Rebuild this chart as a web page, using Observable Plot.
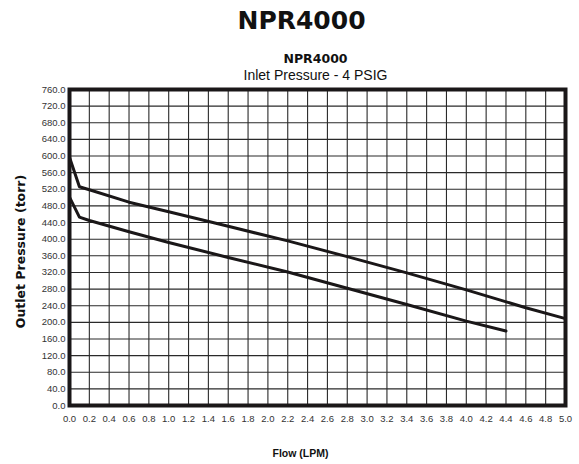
<!DOCTYPE html>
<html>
<head>
<meta charset="utf-8">
<script src="https://cdn.jsdelivr.net/npm/d3@7"></script>
<script src="https://cdn.jsdelivr.net/npm/@observablehq/plot@0.6"></script>
<style>
  html, body { margin: 0; padding: 0; background: #fff; }
  #title { position: relative; left: 12px; width: 579px; height: 45px; text-align: center;
           font-family: "DejaVu Sans", sans-serif; font-weight: bold; font-size: 25px; line-height: 25px;
           padding-top: 8px; box-sizing: border-box; color: #111; }
  #chart svg { display: block; }
</style>
</head>
<body>
<div id="title">NPR4000</div>
<div id="chart"></div>
<script>
const chartTitle = "NPR4000";
const subTitle = "NPR4000";
const subTitle2 = "Inlet Pressure - 4 PSIG";
const xLabel = "Flow (LPM)";
const yLabel = "Outlet Pressure (torr)";

const xTicks = [0,0.2,0.4,0.6,0.8,1.0,1.2,1.4,1.6,1.8,2.0,2.2,2.4,2.6,2.8,3.0,3.2,3.4,3.6,3.8,4.0,4.2,4.4,4.6,4.8,5.0];
const yTicks = [0,40,80,120,160,200,240,280,320,360,400,440,480,520,560,600,640,680,720,760];

const upperFlow = [0, 0.1, 0.2, 0.6, 1.0, 1.6, 2.2, 2.8, 3.4, 4.0, 4.6, 5.0];
const upperTorr = [597, 526, 519, 489, 466, 431, 396, 358, 319, 278, 235, 209];
const lowerFlow = [0, 0.1, 0.2, 0.6, 1.0, 1.6, 2.2, 2.8, 3.4, 4.0, 4.4];
const lowerTorr = [501, 453, 445, 418, 392, 356, 321, 282, 243, 203, 179];

const upper = upperFlow.map((f, i) => ({flow: f, torr: upperTorr[i]}));
const lower = lowerFlow.map((f, i) => ({flow: f, torr: lowerTorr[i]}));

const plot = Plot.plot({
  width: 579,
  height: 419,
  marginTop: 44,
  marginBottom: 59,
  marginLeft: 69,
  marginRight: 14,
  style: {fontFamily: "'Liberation Sans', Arial, sans-serif", background: "#fff"},
  x: {domain: [0, 5]},
  y: {domain: [0, 760]},
  marks: [
    Plot.gridX(xTicks, {stroke: "#2a2a2a", strokeOpacity: 1, strokeWidth: 1.1}),
    Plot.gridY(yTicks, {stroke: "#2a2a2a", strokeOpacity: 1, strokeWidth: 1.1}),
    Plot.axisX(xTicks, {tickSize: 0, tickPadding: 10, tickFormat: d3.format(".1f"), fontSize: 9.5, fill: "#333", label: null}),
    Plot.axisY(yTicks, {tickSize: 0, tickPadding: 4, tickFormat: d3.format(".1f"), fontSize: 9.5, fill: "#333", label: null}),
    Plot.line(upper, {x: "flow", y: "torr", stroke: "#1a1718", strokeWidth: 3}),
    Plot.line(lower, {x: "flow", y: "torr", stroke: "#1a1718", strokeWidth: 3}),
    Plot.frame({stroke: "#1a1718", strokeWidth: 4}),
    Plot.text([subTitle], {frameAnchor: "top", dx: -2, dy: -27, lineAnchor: "bottom", fontSize: 12.5, fontWeight: "bold", fontFamily: "DejaVu Sans", fill: "#111"}),
    Plot.text([subTitle2], {frameAnchor: "top", dx: -2, dy: -10, lineAnchor: "bottom", fontSize: 14, fill: "#111"}),
    Plot.text([yLabel], {frameAnchor: "left", dx: -49, dy: 4, rotate: -90, textAnchor: "middle", lineAnchor: "middle", fontSize: 12.5, fontWeight: "bold", fontFamily: "DejaVu Sans", fill: "#111"}),
    Plot.text([xLabel], {frameAnchor: "bottom", dx: -17, dy: 51, textAnchor: "middle", lineAnchor: "bottom", fontSize: 10.5, fontWeight: "bold", fill: "#111"})
  ]
});
document.getElementById("chart").appendChild(plot);
</script>
</body>
</html>
